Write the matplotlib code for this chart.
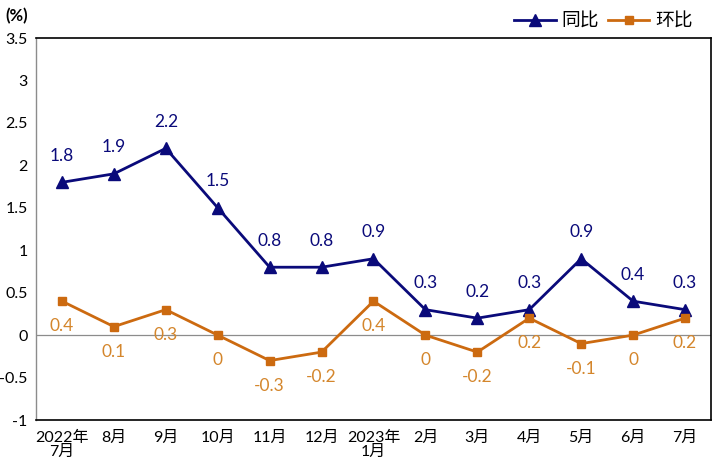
import numpy as np
import matplotlib.pyplot as plt

plt.rcParams['font.family'] = ['Lato', 'Noto Sans CJK SC', 'DejaVu Sans']

# data
months = ['2022年\n7月', '8月', '9月', '10月', '11月', '12月', '2023年\n1月',
          '2月', '3月', '4月', '5月', '6月', '7月']
yoy = [1.8, 1.9, 2.2, 1.5, 0.8, 0.8, 0.9, 0.3, 0.2, 0.3, 0.9, 0.4, 0.3]
mom = [0.4, 0.1, 0.3, 0, -0.3, -0.2, 0.4, 0, -0.2, 0.2, -0.1, 0, 0.2]

blue = '#0A0A7A'
orange = '#CC6A10'
orange_txt = '#D4862C'

fig = plt.figure(figsize=(7.14, 4.67), dpi=100)
ax = fig.add_axes([0.0504, 0.1006, 0.9454, 0.818])

x = np.arange(len(months))
ax.plot(x, yoy, color=blue, lw=2, marker='^', ms=8, label='同比', zorder=3)
ax.plot(x, mom, color=orange, lw=2, marker='s', ms=5.5, label='环比', zorder=3)
ax.axhline(0, color='#8C8C8C', lw=0.9, zorder=1)

for xi, v in zip(x, yoy):
    ax.annotate(f'{v:g}', (xi, v), xytext=(0, 19), textcoords='offset points',
                ha='center', va='center', color=blue, fontsize=12.5)
for xi, v in zip(x, mom):
    ax.annotate(f'{v:g}', (xi, v), xytext=(0, -18), textcoords='offset points',
                ha='center', va='center', color=orange_txt, fontsize=12.5)

ax.set_xlim(-0.5, len(months) - 0.5)
ax.set_ylim(-1, 3.5)
ax.set_yticks(np.arange(-1, 3.51, 0.5))
ax.set_yticklabels([f'{t:g}' for t in np.arange(-1, 3.51, 0.5)])
ax.set_xticks(x)
ax.set_xticklabels(months, linespacing=1.0)
ax.tick_params(axis='both', length=0, labelsize=11.5)
ax.tick_params(axis='x', pad=8)
ax.tick_params(axis='y', pad=6)
for s in ['top', 'right', 'bottom']:
    ax.spines[s].set_color('black')
    ax.spines[s].set_linewidth(1.2)
ax.spines['left'].set_color('#8C8C8C')
ax.spines['left'].set_linewidth(1)

fig.text(0.008, 0.965, '(%)', fontsize=12, fontweight='bold', ha='left', va='center')
ax.legend(loc='lower right', bbox_to_anchor=(0.985, 1.0), ncol=2, frameon=False,
          fontsize=13.5, handlelength=2.2, columnspacing=0.5, handletextpad=0.3,
          borderaxespad=0.05)

fig.savefig('out.png', dpi=100)
